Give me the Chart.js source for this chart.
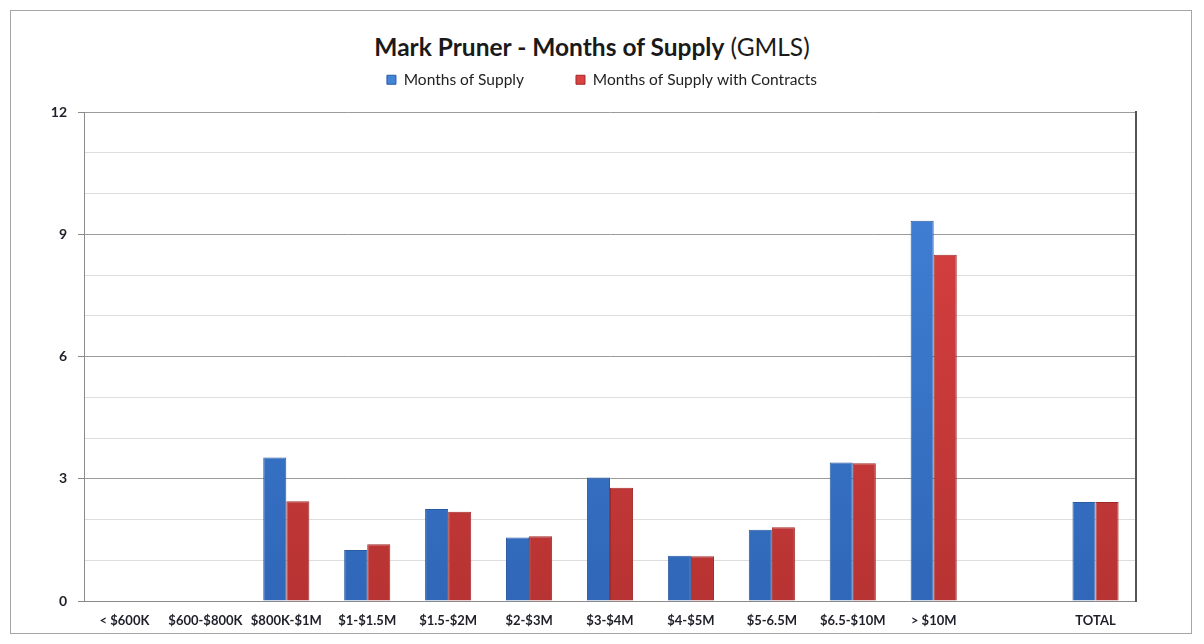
<!DOCTYPE html>
<html>
<head>
<meta charset="utf-8">
<script src="https://cdn.jsdelivr.net/npm/chart.js@4.4.1/dist/chart.umd.min.js"></script>
<style>
  html, body { margin: 0; padding: 0; background: #fff; }
  #wrap { position: relative; width: 1204px; height: 644px; overflow: hidden; }
  #frame { position: absolute; left: 10px; top: 10px; width: 1180px; height: 622px; border: 1px solid #a6a6a6; }
  #title { position: absolute; left: 0; top: 32px; width: 1184px; text-align: center;
           font-family: Lato, "Liberation Sans", sans-serif; font-size: 24.5px; color: #1a1a1a; }
  #title b { font-weight: 700; }
  #title span { font-weight: 400; }
  canvas { position: absolute; left: 0; top: 0; }
</style>
</head>
<body>
<div id="wrap">
  <div id="frame"></div>
  <div id="title"><b>Mark Pruner - Months of Supply</b> <span>(GMLS)</span></div>
  <canvas id="chart" width="1204" height="644"></canvas>
</div>
<script>
const categories = ['< $600K', '$600-$800K', '$800K-$1M', '$1-$1.5M', '$1.5-$2M', '$2-$3M',
    '$3-$4M', '$4-$5M', '$5-6.5M', '$6.5-$10M', '> $10M', '', 'TOTAL'];
const monthsOfSupply = [null, null, 3.52, 1.25, 2.26, 1.56, 3.03, 1.11, 1.75, 3.40, 9.33, null, 2.43];
const monthsWithContracts = [null, null, 2.45, 1.39, 2.19, 1.59, 2.78, 1.10, 1.81, 3.38, 8.50, null, 2.43];
const yTicksShown = [0, 3, 6, 9, 12];

// gradient fill so the bars look a bit like the Excel bevel
function barFill(top, bottom) {
    return function (context) {
        const area = context.chart.chartArea;
        if (!area) return top;
        const g = context.chart.ctx.createLinearGradient(0, area.top, 0, area.bottom);
        g.addColorStop(0, top);
        g.addColorStop(1, bottom);
        return g;
    };
}

// fix the legend height so the plot starts where it does in the picture
const legendHeight = {
    id: 'legendHeight',
    beforeInit(chart) {
        const fit = chart.legend.fit;
        chart.legend.fit = function () {
            fit.bind(chart.legend)();
            this.height = 92;
        };
    }
};

const ctx = document.getElementById('chart').getContext('2d');
new Chart(ctx, {
    type: 'bar',
    data: {
        labels: categories,
        datasets: [{
            label: 'Months of Supply',
            data: monthsOfSupply,
            backgroundColor: barFill('#4284da', '#3067b8'),
            borderColor: '#2a5aa0',
            borderWidth: 1,
            categoryPercentage: 0.57,
            barPercentage: 1.0
        }, {
            label: 'Months of Supply with Contracts',
            data: monthsWithContracts,
            backgroundColor: barFill('#dc4242', '#b83333'),
            borderColor: '#a02a2a',
            borderWidth: 1,
            categoryPercentage: 0.57,
            barPercentage: 1.0
        }]
    },
    options: {
        responsive: false,
        animation: false,
        layout: { padding: { top: 20, left: 0, right: 0, bottom: 11 } },
        plugins: {
            legend: {
                position: 'top',
                labels: {
                    boxWidth: 9,
                    boxHeight: 9,
                    padding: 52,
                    color: '#222',
                    font: { family: 'Lato', size: 15.5 }
                }
            },
            tooltip: { enabled: false }
        },
        scales: {
            x: {
                grid: { display: false, drawTicks: false },
                border: { color: '#8a8a8a', width: 1 },
                ticks: {
                    padding: 12,
                    color: '#1f1f2a',
                    maxRotation: 0,
                    autoSkip: false,
                    font: { family: 'Lato', size: 13, weight: 'bold' }
                },
                afterFit(scale) { scale.height = 32; }
            },
            y: {
                min: 0,
                max: 12,
                ticks: {
                    stepSize: 1,
                    padding: 11,
                    color: '#1f1f2a',
                    font: { family: 'Lato', size: 14, weight: 'bold' },
                    callback: v => yTicksShown.includes(v) ? v : ''
                },
                grid: {
                    color: c => (c.tick && c.tick.value % 3 === 0) ? '#9c9c9c' : '#dddddd',
                    tickColor: c => (c.tick && c.tick.value % 3 === 0) ? '#8a8a8a' : 'rgba(0,0,0,0)',
                    tickLength: 6,
                    lineWidth: 1
                },
                border: { color: '#8a8a8a', width: 1 },
                afterFit(scale) { scale.width = 84; }
            },
            yRight: {
                position: 'right',
                min: 0,
                max: 12,
                ticks: { display: false },
                grid: { display: false, drawTicks: false },
                border: { color: '#555555', width: 2 },
                afterFit(scale) { scale.width = 68; }
            }
        }
    },
    plugins: [legendHeight]
});
</script>
</body>
</html>
